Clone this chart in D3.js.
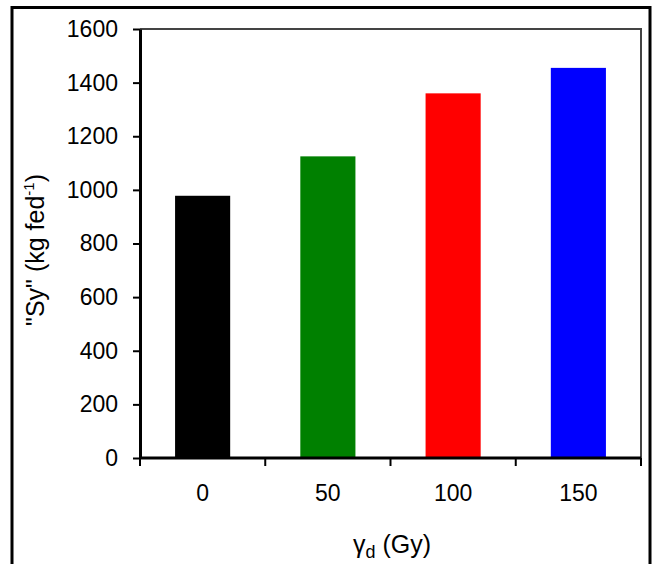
<!DOCTYPE html>
<html>
<head>
<meta charset="utf-8">
<script src="https://cdn.jsdelivr.net/npm/d3@7"></script>
<style>
  html, body { margin: 0; padding: 0; background: #fff; }
  svg { display: block; font-family: "Liberation Sans", Arial, sans-serif; }
</style>
</head>
<body>
<svg id="chart" width="652" height="564"></svg>
<script>
// Seed yield per dose of gamma irradiation
const doses = ["0", "50", "100", "150"];
const yieldValues = [978, 1125, 1360, 1455];
const barColors = ["#000000", "#008000", "#ff0000", "#0000ff"];
const yTicks = [0, 200, 400, 600, 800, 1000, 1200, 1400, 1600];

const svg = d3.select("#chart");
const plot = { left: 140, right: 641, top: 29, bottom: 458 };

// Outer frame around the whole figure
svg.append("rect")
  .attr("x", 12).attr("y", 7.5)
  .attr("width", 638).attr("height", 600)
  .attr("fill", "none").attr("stroke", "#000").attr("stroke-width", 3);

const x = d3.scaleBand()
  .domain(doses)
  .range([plot.left, plot.right])
  .paddingInner(0.56)
  .paddingOuter(0.28);

const y = d3.scaleLinear()
  .domain([0, 1600])
  .range([plot.bottom, plot.top]);

// Plot box: thin top and right edges
svg.append("path")
  .attr("d", `M${plot.left},${plot.top}H${plot.right}V${plot.bottom}`)
  .attr("fill", "none").attr("stroke", "#444").attr("stroke-width", 2);

// Bars
svg.append("g").selectAll("rect")
  .data(doses.map((d, i) => ({ dose: d, value: yieldValues[i], color: barColors[i] })))
  .join("rect")
  .attr("x", d => x(d.dose))
  .attr("width", x.bandwidth())
  .attr("y", d => y(d.value))
  .attr("height", d => y(0) - y(d.value))
  .attr("fill", d => d.color);

// Y axis
const yAxis = svg.append("g")
  .attr("transform", `translate(${plot.left},0)`)
  .call(d3.axisLeft(y).tickValues(yTicks).tickFormat(d3.format("d"))
    .tickSize(7).tickSizeOuter(0).tickPadding(15));
yAxis.select(".domain").attr("stroke-width", 3);
yAxis.selectAll(".tick line").attr("stroke-width", 2);
yAxis.selectAll(".tick text")
  .attr("font-size", 23).attr("fill", "#000")
  .attr("font-family", "Liberation Sans, Arial, sans-serif");

// X axis: ticks sit on the category boundaries
const step = x.step();
const boundaries = d3.range(doses.length + 1).map(i => plot.left + i * step);
const xAxis = svg.append("g")
  .attr("transform", `translate(0,${plot.bottom})`);
xAxis.append("line")
  .attr("x1", plot.left).attr("x2", plot.right)
  .attr("stroke", "#000").attr("stroke-width", 3);
xAxis.selectAll(".btick")
  .data(boundaries)
  .join("line")
  .attr("class", "btick")
  .attr("x1", d => d).attr("x2", d => d)
  .attr("y1", 0).attr("y2", 8)
  .attr("stroke", "#000").attr("stroke-width", 2);
xAxis.selectAll(".xlab")
  .data(doses)
  .join("text")
  .attr("class", "xlab")
  .attr("x", d => x(d) + x.bandwidth() / 2)
  .attr("y", 43)
  .attr("text-anchor", "middle")
  .attr("font-size", 23)
  .text(d => d);

// X axis title: γd (Gy)
const xt = svg.append("text")
  .attr("x", 392).attr("y", 553)
  .attr("text-anchor", "middle")
  .attr("font-size", 25);
xt.append("tspan").text("γ");
xt.append("tspan").attr("font-size", 18).attr("dy", 5).text("d");
xt.append("tspan").attr("dy", -5).text(" (Gy)");

// Y axis title: "Sy" (kg fed-1)
const yt = svg.append("text")
  .attr("transform", "translate(44,250) rotate(-90)")
  .attr("text-anchor", "middle")
  .attr("font-size", 25);
yt.append("tspan").text("\"Sy\" (kg fed");
yt.append("tspan").attr("font-size", 15).attr("dy", -10).text("-1");
yt.append("tspan").attr("dy", 10).text(")");
</script>
</body>
</html>
